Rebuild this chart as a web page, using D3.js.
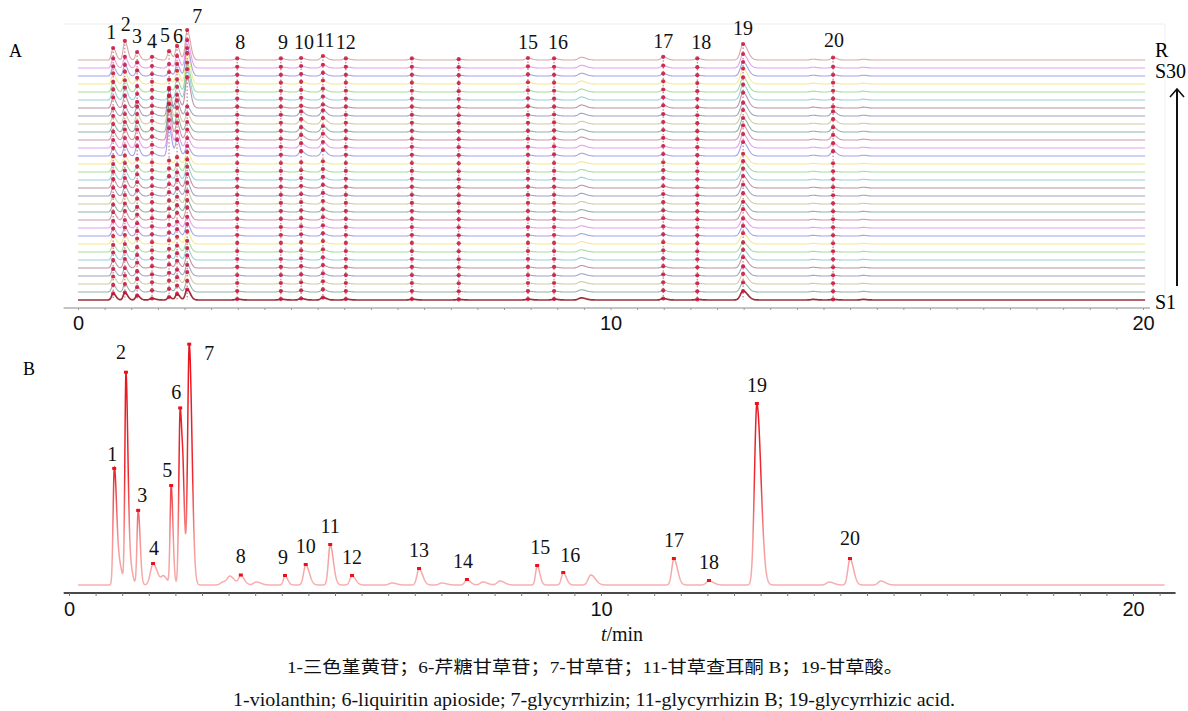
<!DOCTYPE html>
<html>
<head>
<meta charset="utf-8">
<script src="https://cdn.jsdelivr.net/npm/d3@7"></script>
<style>
  body { margin: 0; background: #fff; }
  svg { display: block; font-family: "Times New Roman", "Liberation Serif", Tinos, serif; }
</style>
</head>
<body>
<svg id="chart" width="1188" height="711"></svg>
<script>
// ---- panel A: fingerprint overlay of S1..S30 and reference R ----
const peakIds = [1, 2, 3, 4, 5, 6, 7, 8, 9, 10, 11, 12, 13, 14, 15, 16, 17, 18, 19, 20]
const labelledA = [1, 2, 3, 4, 5, 6, 7, 8, 9, 10, 11, 12, 15, 16, 17, 18, 19, 20]
const peakTimesA = [0.66, 0.88, 1.11, 1.39, 1.71, 1.86, 2.05, 2.99, 3.81, 4.19, 4.60, 5.03, 6.27, 7.15, 8.45, 8.94, 10.99, 11.63, 12.49, 14.18]
const peakWidthsA = [0.03, 0.03, 0.03, 0.04, 0.03, 0.03, 0.035, 0.04, 0.04, 0.04, 0.04, 0.04, 0.04, 0.04, 0.04, 0.04, 0.04, 0.04, 0.05, 0.04]
// peak heights (mAU) for each profile
const heightsR     = [30, 48, 20, 8, 22, 35, 75, 4, 4, 5, 10, 4, 4, 2, 5, 4, 8, 4, 40, 6]
const heightsMain  = [22, 25, 15, 5, 10, 20, 35, 3, 3, 5, 8, 3, 3, 2, 3, 3, 5, 2, 30, 2]
const heightsAlt   = [20, 25, 25, 8, 70, 40, 25, 3, 3, 12, 15, 3, 3, 2, 3, 4, 5, 2, 35, 12]
const heightsHigh7 = [24, 28, 14, 5, 10, 30, 70, 3, 3, 5, 8, 3, 3, 2, 4, 3, 6, 2, 35, 3]
const minorTimesA = [9.45, 13.8, 14.74]
const minorHeightsA = [7, 2, 2]

const sampleNames = ["S1", "S2", "S3", "S4", "S5", "S6", "S7", "S8", "S9", "S10",
  "S11", "S12", "S13", "S14", "S15", "S16", "S17", "S18", "S19", "S20",
  "S21", "S22", "S23", "S24", "S25", "S26", "S27", "S28", "S29", "S30", "R"]
const sampleProfile = ["main", "main", "main", "main", "main", "main", "main", "main", "main", "main",
  "main", "main", "main", "main", "main", "main", "main", "main", "alt", "alt",
  "alt", "alt", "alt", "alt", "high7", "high7", "high7", "high7", "high7", "high7", "ref"]
const sampleScale = [0.75, 0.8, 0.85, 0.8, 0.9, 0.85, 0.8, 0.9, 0.85, 0.8,
  0.9, 0.85, 0.9, 0.95, 1.0, 0.95, 0.9, 0.85, 1.0, 1.0,
  1.05, 1.0, 1.0, 0.95, 1.1, 1.1, 1.05, 1.1, 1.0, 1.0, 1.0]
const traceColors = ["#d040d0", "#4848d0", "#e6d620", "#40c040", "#30a0b8",
  "#802848", "#404a80", "#a09848", "#206848", "#a03050"]

// ---- panel B: single chromatogram ----
const peakTimesB = [0.85, 1.07, 1.30, 1.58, 1.92, 2.09, 2.26, 3.23, 4.06, 4.45, 4.91, 5.32, 6.58, 7.48, 8.80, 9.29, 11.37, 12.03, 12.93, 14.68]
const heightsB   = [107, 207, 74, 21, 98, 176, 240, 9, 9, 20, 40, 9, 16, 5, 19, 12, 26, 4, 181, 26]
const peakWidthsB = [0.022, 0.02, 0.022, 0.05, 0.02, 0.025, 0.03, 0.04, 0.03, 0.04, 0.035, 0.04, 0.04, 0.04, 0.03, 0.035, 0.04, 0.05, 0.045, 0.04]
const minorTimesB   = [0.91, 1.13, 1.78, 2.15, 2.90, 3.03, 3.52, 6.07, 7.01, 7.78, 8.10, 9.81, 14.29, 15.26]
const minorHeightsB = [28, 26, 8, 50, 3, 8, 3, 2, 2, 3, 4, 10, 3, 4]
const minorWidthsB  = [0.04, 0.03, 0.04, 0.02, 0.05, 0.05, 0.05, 0.05, 0.05, 0.05, 0.05, 0.05, 0.05, 0.05]

const captionZh = "1-三色堇黄苷；6-芹糖甘草苷；7-甘草苷；11-甘草查耳酮 B；19-甘草酸。"
const captionEn = "1-violanthin; 6-liquiritin apioside; 7-glycyrrhizin; 11-glycyrrhizin B; 19-glycyrrhizic acid."

// label nudges (layout only)
const nudgeA = { 1: [-2, 0], 2: [1, -1], 5: [-4, 0], 6: [1, 6], 7: [10, 2], 8: [3, 0], 9: [2, 0], 10: [3, 0], 11: [2, 0], 16: [4, 0], 18: [4, 0], 20: [1, -2] }
const nudgeB = { 1: [-2, 4], 2: [-5, -2], 3: [4, 3], 4: [1, 3], 5: [-4, 3], 6: [-4, 3], 7: [20, 27], 9: [-2, 0], 14: [-4, 0], 15: [3, 0], 16: [7, 1], 20: [0, -2] }

const TAIL = 1.7
function signal(t, times, heights, widths) {
  let s = 0
  for (let i = 0; i < times.length; i++) {
    const d = t - times[i]
    const w = d < 0 ? widths[i] : widths[i] * TAIL
    if (Math.abs(d) < w * 8) s += heights[i] * Math.exp(-0.5 * (d / w) * (d / w))
  }
  return s
}

const svg = d3.select("#chart")

// ================= panel A =================
const xA = d3.scaleLinear().domain([0, 20]).range([78, 1143])
const yRow = d3.scalePoint().domain(sampleNames).range([300, 60])
const yAmp = d3.scaleLinear().domain([0, 100]).range([0, 40])

function heightsFor(i) {
  const p = sampleProfile[i]
  const base = p == "ref" ? heightsR : p == "alt" ? heightsAlt : p == "high7" ? heightsHigh7 : heightsMain
  return base.map(h => h * sampleScale[i])
}
function colorFor(i) {
  if (sampleNames[i] == "S1") return "#8e1b22"
  if (sampleNames[i] == "R") return "#b05050"
  return traceColors[(30 - (i + 1)) % 10]
}

// faint frame
svg.append("line").attr("x1", 64).attr("x2", 1165).attr("y1", 24).attr("y2", 24)
  .attr("stroke", "#ececec")
svg.append("line").attr("x1", 1165).attr("x2", 1165).attr("y1", 24).attr("y2", 302)
  .attr("stroke", "#f0f0f0")

const gridA = d3.range(0, 20.05, 0.01)
const tracesA = svg.append("g")
const apexA = []  // [sampleIndex][peakIndex] -> y

sampleNames.forEach((name, i) => {
  const hs = heightsFor(i)
  const mh = minorHeightsA.map(h => h * sampleScale[i])
  const vals = gridA.map(t => [t,
    signal(t, peakTimesA, hs, peakWidthsA) + signal(t, minorTimesA, mh, [0.05, 0.04, 0.04])])
  const line = d3.line()
    .x(d => xA(d[0]))
    .y(d => yRow(name) - yAmp(d[1]))
  tracesA.append("path")
    .datum(vals)
    .attr("d", line)
    .attr("fill", "none")
    .attr("stroke", colorFor(i))
    .attr("stroke-width", name == "S1" ? 1.7 : 1.1)
    .attr("stroke-opacity", name == "S1" ? 0.9 : 0.5)
  apexA.push(peakTimesA.map(t => yRow(name) - yAmp(signal(t, peakTimesA, hs, peakWidthsA))))
})

// dotted guide lines and peak markers
const markA = svg.append("g")
peakTimesA.forEach((t, k) => {
  markA.append("line")
    .attr("x1", xA(t)).attr("x2", xA(t))
    .attr("y1", apexA[sampleNames.length - 1][k]).attr("y2", yRow("S1"))
    .attr("stroke", "#a0203a").attr("stroke-width", 1)
    .attr("stroke-dasharray", "1.5,2").attr("stroke-opacity", 0.7)
})
sampleNames.forEach((name, i) => {
  markA.selectAll(null)
    .data(peakTimesA)
    .join("circle")
    .attr("cx", d => xA(d))
    .attr("cy", (d, k) => apexA[i][k])
    .attr("r", 2.1)
    .attr("fill", "#c8143c")
    .attr("fill-opacity", 0.85)
})

// peak numbers on top
svg.append("g").selectAll("text")
  .data(labelledA)
  .join("text")
  .attr("x", d => xA(peakTimesA[d - 1]) + (nudgeA[d] ? nudgeA[d][0] : 0))
  .attr("y", d => apexA[sampleNames.length - 1][d - 1] - 9 + (nudgeA[d] ? nudgeA[d][1] : 0))
  .attr("text-anchor", "middle")
  .attr("font-size", 20)
  .attr("fill", "#111")
  .text(d => d)

// axis A
svg.append("line").attr("x1", xA(-0.27)).attr("x2", xA(20.13)).attr("y1", 308).attr("y2", 308)
  .attr("stroke", "#8a8a8a").attr("stroke-width", 1.2)
const minorA = svg.append("g").attr("transform", "translate(0,308)")
  .call(d3.axisBottom(xA).tickValues(d3.range(0, 20.01, 0.5)).tickSize(2).tickFormat(""))
minorA.select(".domain").remove()
minorA.selectAll("line").attr("stroke", "#999")
const labA = svg.append("g").attr("transform", "translate(0,308)")
  .call(d3.axisBottom(xA).tickValues([0, 10, 20]).tickSize(0).tickPadding(8))
labA.select(".domain").remove()
labA.selectAll("text").attr("font-size", 20).attr("font-family", null).attr("fill", "#111")

// panel A side labels
svg.append("text").attr("x", 9).attr("y", 57).attr("font-size", 18).text("A")
svg.append("text").attr("x", 1155).attr("y", 57).attr("font-size", 20).text("R")
svg.append("text").attr("x", 1155).attr("y", 78).attr("font-size", 20).text("S30")
svg.append("text").attr("x", 1155).attr("y", 309).attr("font-size", 20).text("S1")
svg.append("line").attr("x1", 1177).attr("x2", 1177).attr("y1", 286).attr("y2", 90)
  .attr("stroke", "#111").attr("stroke-width", 2)
svg.append("path").attr("d", "M1170,97 L1177,89 L1184,97")
  .attr("fill", "none").attr("stroke", "#111").attr("stroke-width", 1.6)

// ================= panel B =================
const xB = d3.scaleLinear().domain([0, 20]).range([69, 1133])
const yB = d3.scaleLinear().domain([0, 250]).range([585, 335])

const defs = svg.append("defs")
const grad = defs.append("linearGradient").attr("id", "bgrad")
  .attr("gradientUnits", "userSpaceOnUse")
  .attr("x1", 0).attr("x2", 0).attr("y1", 340).attr("y2", 586)
grad.append("stop").attr("offset", 0).attr("stop-color", "#e8101a")
grad.append("stop").attr("offset", 0.55).attr("stop-color", "#ec2a30")
grad.append("stop").attr("offset", 0.82).attr("stop-color", "#f59696")
grad.append("stop").attr("offset", 1).attr("stop-color", "#f7b0b0")

const gridB = d3.range(0.17, 20.6, 0.005)
function sigB(t) {
  return signal(t, peakTimesB, heightsB, peakWidthsB) + signal(t, minorTimesB, minorHeightsB, minorWidthsB)
}
const valsB = gridB.map(t => [t, sigB(t)])
svg.append("path")
  .datum(valsB)
  .attr("d", d3.line().x(d => xB(d[0])).y(d => yB(d[1])))
  .attr("fill", "none")
  .attr("stroke", "url(#bgrad)")
  .attr("stroke-width", 1.5)

svg.append("g").selectAll("rect")
  .data(peakTimesB)
  .join("rect")
  .attr("x", d => xB(d) - 2)
  .attr("y", d => yB(sigB(d)) - 2)
  .attr("width", 4).attr("height", 3)
  .attr("fill", "#e8101a")

svg.append("g").selectAll("text")
  .data(peakIds)
  .join("text")
  .attr("x", d => xB(peakTimesB[d - 1]) + (nudgeB[d] ? nudgeB[d][0] : 0))
  .attr("y", d => yB(sigB(peakTimesB[d - 1])) - 12 + (nudgeB[d] ? nudgeB[d][1] : 0))
  .attr("text-anchor", "middle")
  .attr("font-size", 20)
  .attr("fill", "#111")
  .text(d => d)

// axis B
svg.append("line").attr("x1", xB(-0.1)).attr("x2", xB(20.8)).attr("y1", 593).attr("y2", 593)
  .attr("stroke", "#4a4a4a").attr("stroke-width", 2)
const minorB = svg.append("g").attr("transform", "translate(0,593)")
  .call(d3.axisBottom(xB).tickValues(d3.range(0, 20.51, 0.5)).tickSize(3).tickFormat(""))
minorB.select(".domain").remove()
minorB.selectAll("line").attr("stroke", "#777")
const labB = svg.append("g").attr("transform", "translate(0,593)")
  .call(d3.axisBottom(xB).tickValues([0, 10, 20]).tickSize(0).tickPadding(9))
labB.select(".domain").remove()
labB.selectAll("text").attr("font-size", 20).attr("font-family", null).attr("fill", "#111")

const tl = svg.append("text").attr("x", 622).attr("y", 641).attr("text-anchor", "middle")
  .attr("font-size", 20).attr("fill", "#111")
tl.append("tspan").attr("font-style", "italic").text("t")
tl.append("tspan").text("/min")

svg.append("text").attr("x", 23).attr("y", 375).attr("font-size", 18).text("B")

// captions
svg.append("text").attr("x", 595).attr("y", 673).attr("text-anchor", "middle")
  .attr("font-size", 17).attr("font-family", "'Times New Roman', 'Liberation Serif', 'Noto Sans CJK SC', serif")
  .attr("textLength", 616).attr("lengthAdjust", "spacingAndGlyphs")
  .attr("fill", "#111").text(captionZh)
svg.append("text").attr("x", 594).attr("y", 706).attr("text-anchor", "middle")
  .attr("font-size", 18)
  .attr("textLength", 722).attr("lengthAdjust", "spacingAndGlyphs")
  .attr("fill", "#111").text(captionEn)
</script>
</body>
</html>
